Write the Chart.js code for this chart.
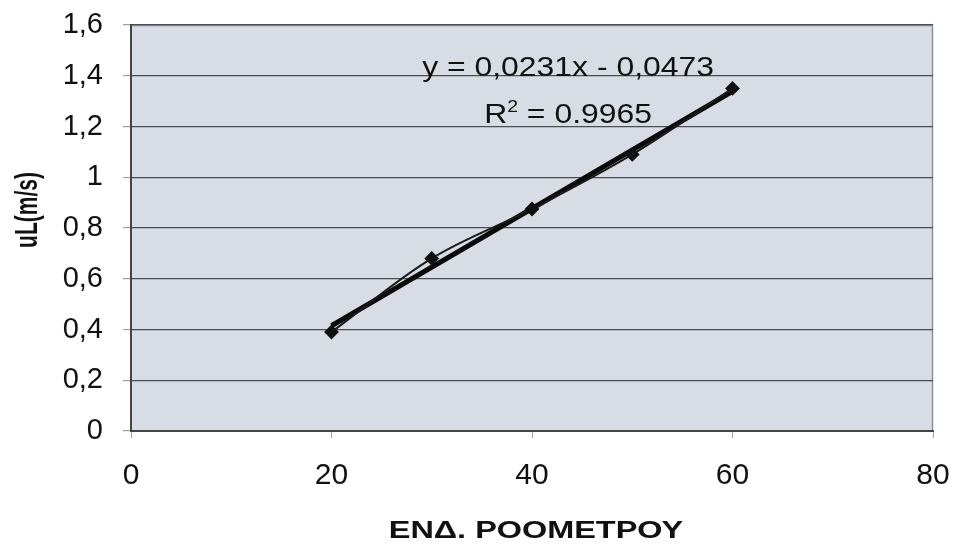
<!DOCTYPE html>
<html>
<head>
<meta charset="utf-8">
<script src="https://cdn.jsdelivr.net/npm/chart.js@4.4.1/dist/chart.umd.min.js"></script>
<style>
  html, body { margin: 0; padding: 0; background: #ffffff; }
  #wrap { width: 956px; height: 550px; position: relative; }
</style>
</head>
<body>
<div id="wrap"><canvas id="c" width="956" height="550"></canvas></div>
<script>
// Measured flow-meter readings and the corresponding liquid velocity
const flowmeterReadings = [20, 30, 40, 50, 60];
const velocities = [0.39, 0.68, 0.875, 1.09, 1.35];

// Linear trendline as reported on the chart
const trendSlope = 0.0231;
const trendIntercept = -0.0473;
const trendR2 = 0.9965;
const trendRange = [20, 60];

const xTitle = 'ΕΝΔ. ΡΟΟΜΕΤΡΟΥ';
const yTitle = 'uL(m/s)';

const measured = flowmeterReadings.map((x, i) => ({ x, y: velocities[i] }));
const trend = trendRange.map(x => ({ x, y: trendSlope * x + trendIntercept }));

const fmt = v => Number(v.toFixed(4)).toString().replace('.', ',');
const FONT = '"Liberation Sans", Arial, sans-serif';

// Draw a string with a horizontal stretch factor
function stretchedText(ctx, text, x, y, sx) {
  ctx.save();
  ctx.translate(x, y);
  ctx.scale(sx, 1);
  ctx.fillText(text, 0, 0);
  ctx.restore();
}

// Plot background, frame, regression equation and axis titles
const plotDecor = {
  id: 'plotDecor',
  beforeDraw(chart) {
    const { ctx, chartArea: a } = chart;
    ctx.save();
    ctx.fillStyle = '#d7dce5';
    ctx.fillRect(a.left, a.top, a.right - a.left, a.bottom - a.top);
    ctx.strokeStyle = '#8d9199';
    ctx.lineWidth = 1.5;
    ctx.beginPath();
    ctx.moveTo(a.left, a.top + 0.5);
    ctx.lineTo(a.right - 0.5, a.top + 0.5);
    ctx.lineTo(a.right - 0.5, a.bottom);
    ctx.stroke();
    ctx.restore();
  },
  afterDatasetsDraw(chart) {
    const { ctx, chartArea: a, scales: { x, y } } = chart;
    ctx.save();
    ctx.fillStyle = '#111111';
    ctx.textBaseline = 'alphabetic';

    // Regression equation
    const sx = 1.14;
    const cx = x.getPixelForValue(43.6);
    ctx.font = '28px ' + FONT;
    const eq = 'y = ' + fmt(trendSlope) + 'x - ' + fmt(-trendIntercept);
    const wEq = ctx.measureText(eq).width * sx;
    stretchedText(ctx, eq, cx - wEq / 2, y.getPixelForValue(1.400), sx);

    // R² with raised exponent
    const base = y.getPixelForValue(1.215);
    const partA = 'R';
    const partB = ' = ' + trendR2.toString();
    ctx.font = '28px ' + FONT;
    const wA = ctx.measureText(partA).width * sx;
    const wB = ctx.measureText(partB).width * sx;
    ctx.font = '17px ' + FONT;
    const wS = ctx.measureText('2').width * sx;
    const start = cx - (wA + wS + wB) / 2;
    ctx.font = '28px ' + FONT;
    stretchedText(ctx, partA, start, base, sx);
    ctx.font = '17px ' + FONT;
    stretchedText(ctx, '2', start + wA, base - 11, sx);
    ctx.font = '28px ' + FONT;
    stretchedText(ctx, partB, start + wA + wS, base, sx);

    // Axis titles
    ctx.font = 'bold 23px ' + FONT;
    ctx.textBaseline = 'middle';
    const tsx = 1.41;
    const wX = ctx.measureText(xTitle).width * tsx;
    stretchedText(ctx, xTitle, (a.left + a.right) / 2 + 4 - wX / 2, 532, tsx);

    const tsy = 1.47;
    ctx.font = 'bold 21px ' + FONT;
    const wY = ctx.measureText(yTitle).width;
    ctx.save();
    ctx.translate(28, (a.top + a.bottom) / 2 - 18);
    ctx.scale(tsy, 1);
    ctx.rotate(-Math.PI / 2);
    ctx.fillText(yTitle, -wY / 2, 0);
    ctx.restore();

    ctx.restore();
  }
};

new Chart(document.getElementById('c'), {
  type: 'scatter',
  data: {
    datasets: [
      {
        label: 'trend',
        data: trend,
        showLine: true,
        borderColor: '#0a0a0a',
        borderWidth: 5,
        pointRadius: 0,
        order: 2
      },
      {
        label: 'uL',
        data: measured,
        showLine: true,
        tension: 0.35,
        borderColor: '#1a1a1a',
        borderWidth: 2,
        pointStyle: 'rectRot',
        pointRadius: 6,
        pointBackgroundColor: '#111111',
        pointBorderColor: '#111111',
        order: 1
      }
    ]
  },
  options: {
    responsive: false,
    animation: false,
    layout: { padding: { top: 25, right: 23, left: 0, bottom: 0 } },
    plugins: {
      legend: { display: false },
      tooltip: { enabled: false }
    },
    scales: {
      x: {
        type: 'linear',
        min: 0, max: 80,
        ticks: {
          stepSize: 20,
          color: '#111111',
          font: { family: FONT, size: 30, lineHeight: 2.27 },
          padding: 4
        },
        grid: {
          drawOnChartArea: false,
          drawTicks: true,
          tickLength: 7,
          color: '#a0a0a0'
        },
        border: { color: '#444444', width: 2 },
        title: { display: false, text: xTitle },
        afterFit(scale) { scale.height = 119; }
      },
      y: {
        type: 'linear',
        min: 0, max: 1.6,
        ticks: {
          stepSize: 0.2,
          color: '#111111',
          font: { family: FONT, size: 29, lineHeight: 0.3 },
          padding: 20,
          callback: v => fmt(v)
        },
        grid: {
          color: '#4a4d52',
          lineWidth: 1.2,
          tickLength: 8,
          tickColor: '#a0a0a0'
        },
        border: { color: '#444444', width: 2 },
        title: { display: false, text: yTitle },
        afterFit(scale) { scale.width = 131; }
      }
    }
  },
  plugins: [plotDecor]
});
</script>
</body>
</html>
